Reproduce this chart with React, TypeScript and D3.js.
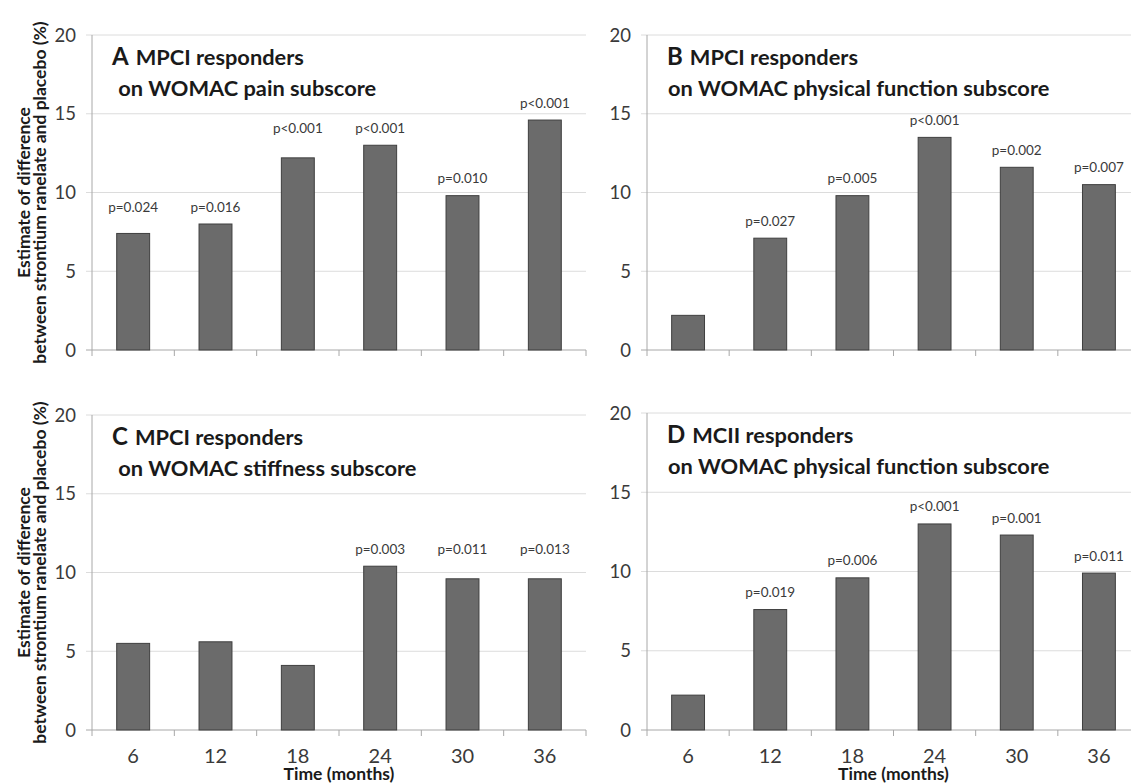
import React, { useEffect, useRef } from 'react';
import * as d3 from 'd3';

// months on the x axis
const months = ['6', '12', '18', '24', '30', '36'];
const yTicks = [0, 5, 10, 15, 20];

// A: MPCI responders, pain
const valuesA = [7.4, 8.0, 12.2, 13.0, 9.8, 14.6];
const pA = ['p=0.024', 'p=0.016', 'p<0.001', 'p<0.001', 'p=0.010', 'p<0.001'];
// B: MPCI responders, physical function
const valuesB = [2.2, 7.1, 9.8, 13.5, 11.6, 10.5];
const pB = ['', 'p=0.027', 'p=0.005', 'p<0.001', 'p=0.002', 'p=0.007'];
// C: MPCI responders, stiffness
const valuesC = [5.5, 5.6, 4.1, 10.4, 9.6, 9.6];
const pC = ['', '', '', 'p=0.003', 'p=0.011', 'p=0.013'];
// D: MCII responders, physical function
const valuesD = [2.2, 7.6, 9.6, 13.0, 12.3, 9.9];
const pD = ['', 'p=0.019', 'p=0.006', 'p<0.001', 'p=0.001', 'p=0.011'];

const FONT = 'Lato, "Open Sans", sans-serif';

const App = () => {
  const svgRef = useRef<SVGSVGElement>(null);

  useEffect(() => {
    const width = 1131;
    const height = 784;
    const svg = d3.select(svgRef.current);
    svg.selectAll('*').remove();
    svg.attr('width', width).attr('height', height);

    // labelGroups: p labels drawn on a common row (as in the original figure)
    const panels = [
      { letter: 'A', line1: 'MPCI responders', line2: ' on WOMAC pain subscore', values: valuesA, p: pA, left: 92, right: 586, top: 35, bottom: 350, yTitle: true, xTitle: false, labelGroups: [[0, 1], [2, 3]] },
      { letter: 'B', line1: 'MPCI responders', line2: 'on WOMAC physical function subscore', values: valuesB, p: pB, left: 647, right: 1140, top: 35, bottom: 350, yTitle: false, xTitle: false, labelGroups: [] },
      { letter: 'C', line1: 'MPCI responders', line2: ' on WOMAC stiffness subscore', values: valuesC, p: pC, left: 92, right: 586, top: 415, bottom: 730, yTitle: true, xTitle: true, labelGroups: [[3, 4, 5]] },
      { letter: 'D', line1: 'MCII responders', line2: 'on WOMAC physical function subscore', values: valuesD, p: pD, left: 647, right: 1140, top: 413, bottom: 730, yTitle: false, xTitle: true, labelGroups: [] },
    ];

    panels.forEach(pn => {
      const g = svg.append('g');
      const x = d3.scaleBand<string>()
        .domain(months)
        .range([pn.left, pn.right])
        .paddingInner(0.6)
        .paddingOuter(0.3);
      const y = d3.scaleLinear().domain([0, 20]).range([pn.bottom, pn.top]);

      // 网格线
      g.selectAll('.grid')
        .data(yTicks.filter(t => t > 0))
        .enter().append('line')
        .attr('x1', pn.left - 6)
        .attr('x2', pn.right)
        .attr('y1', d => y(d))
        .attr('y2', d => y(d))
        .attr('stroke', '#dcdcdc')
        .attr('stroke-width', 1);

      // y axis line
      g.append('line')
        .attr('x1', pn.left).attr('x2', pn.left)
        .attr('y1', y(20)).attr('y2', y(0))
        .attr('stroke', '#a8a8a8');

      // x axis line + ticks on band edges
      g.append('line')
        .attr('x1', pn.left - 6).attr('x2', pn.right)
        .attr('y1', y(0)).attr('y2', y(0))
        .attr('stroke', '#a8a8a8');
      const edges = d3.range(months.length + 1).map(i => pn.left + i * x.step());
      g.selectAll('.xtick')
        .data(edges)
        .enter().append('line')
        .attr('x1', d => d).attr('x2', d => d)
        .attr('y1', y(0)).attr('y2', y(0) + 6)
        .attr('stroke', '#a8a8a8');

      // y tick labels
      g.selectAll('.ylab')
        .data(yTicks)
        .enter().append('text')
        .attr('x', pn.left - 16)
        .attr('y', d => y(d))
        .attr('dy', '0.36em')
        .attr('text-anchor', 'end')
        .attr('font-family', FONT)
        .attr('font-size', 18.5)
        .attr('fill', '#3a3a3a')
        .text(d => d);

      // bars
      g.selectAll('.bar')
        .data(pn.values)
        .enter().append('rect')
        .attr('x', (d, i) => x(months[i])!)
        .attr('y', d => y(d))
        .attr('width', x.bandwidth())
        .attr('height', d => y(0) - y(d))
        .attr('fill', '#6b6b6b')
        .attr('stroke', '#3f3f3f')
        .attr('stroke-width', 1);

      // p values above bars
      const labelTop = (i: number) => {
        const grp = pn.labelGroups.find(gr => gr.includes(i)) || [i];
        return d3.min(grp, j => y(pn.values[j]))!;
      };
      g.selectAll('.plab')
        .data(pn.values)
        .enter().append('text')
        .attr('x', (d, i) => x(months[i])! + x.bandwidth() / 2)
        .attr('y', (d, i) => labelTop(i) - 12.5)
        .attr('text-anchor', 'middle')
        .attr('font-family', FONT)
        .attr('font-size', 13.5)
        .attr('fill', '#3a3a3a')
        .text((d, i) => pn.p[i]);

      // panel title
      const t = g.append('text')
        .attr('x', pn.left + 20)
        .attr('y', pn.top + 30)
        .attr('font-family', FONT)
        .attr('font-weight', 'bold')
        .attr('fill', '#1a1a1a');
      t.append('tspan').attr('font-size', 24).text(pn.letter);
      t.append('tspan').attr('font-size', 21.8).attr('dx', 7).text(pn.line1);
      g.append('text')
        .attr('x', pn.left + 21)
        .attr('y', pn.top + 61)
        .attr('font-family', FONT)
        .attr('font-weight', 'bold')
        .attr('font-size', 21.8)
        .attr('fill', '#1a1a1a')
        .style('white-space', 'pre')
        .text(pn.line2);

      if (pn.xTitle) {
        g.selectAll('.xlab')
          .data(months)
          .enter().append('text')
          .attr('x', d => x(d)! + x.bandwidth() / 2)
          .attr('y', y(0) + 33)
          .attr('text-anchor', 'middle')
          .attr('font-family', FONT)
          .attr('font-size', 20)
          .attr('fill', '#3a3a3a')
          .text(d => d);
        g.append('text')
          .attr('x', (pn.left + (pn.left + 6 * x.step())) / 2)
          .attr('y', y(0) + 50)
          .attr('text-anchor', 'middle')
          .attr('font-family', FONT)
          .attr('font-weight', 'bold')
          .attr('font-size', 17.5)
          .attr('fill', '#1a1a1a')
          .text('Time (months)');
      }

      if (pn.yTitle) {
        const cy = (y(0) + y(20)) / 2;
        const lines = ['Estimate of difference', 'between strontium ranelate and placebo (%)'];
        lines.forEach((s, i) => {
          g.append('text')
            .attr('transform', `translate(${30 + i * 16},${cy}) rotate(-90)`)
            .attr('text-anchor', 'middle')
            .attr('font-family', FONT)
            .attr('font-weight', 'bold')
            .attr('font-size', 17.5)
            .attr('fill', '#1a1a1a')
            .text(s);
        });
      }
    });
  }, []);

  return (
    <div style={{ position: 'absolute', left: 0, top: 0, background: '#fff' }}>
      <svg ref={svgRef}></svg>
    </div>
  );
};

export default App;
